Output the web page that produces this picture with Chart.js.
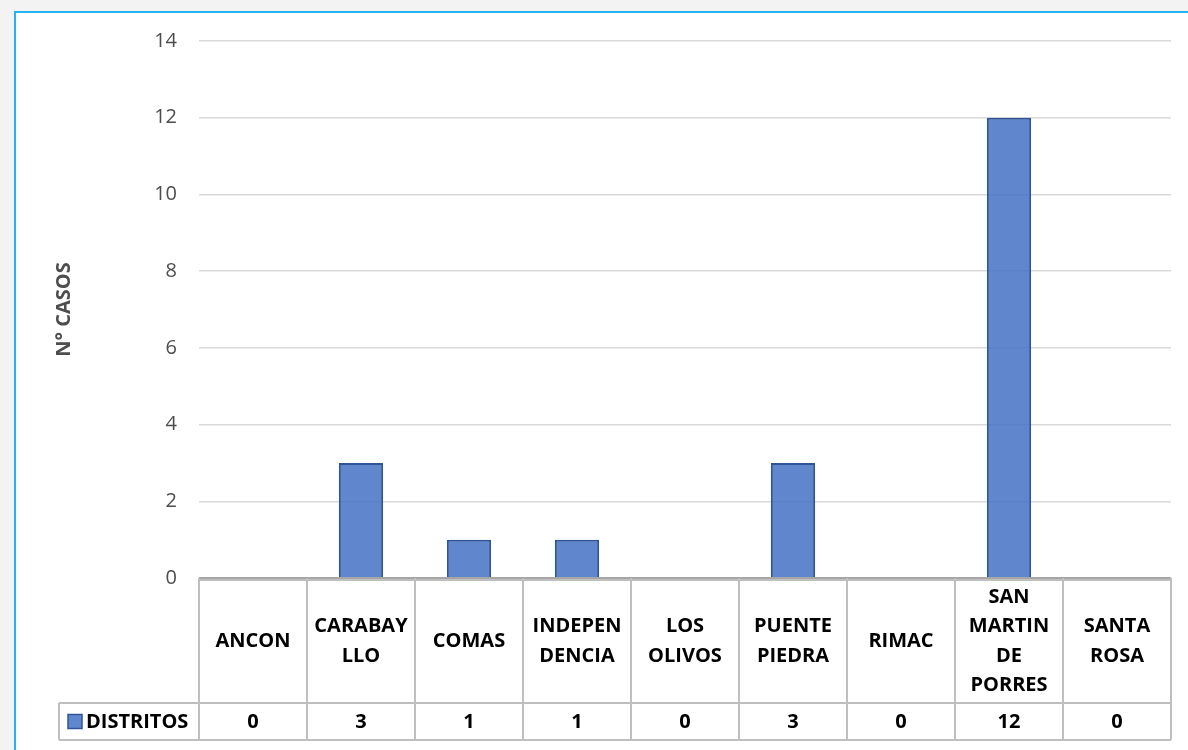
<!DOCTYPE html>
<html>
<head>
<meta charset="utf-8">
<script src="https://cdn.jsdelivr.net/npm/chart.js@4"></script>
<style>
    html, body { margin: 0; padding: 0; background: #f3f3f3; }
    #frame {
        position: absolute; left: 14px; top: 11px;
        width: 1200px; height: 800px;
        background: #ffffff;
        border-left: 2px solid #22b4ee;
        border-top: 2px solid #22b4ee;
    }
    #wrap { position: absolute; left: 0; top: 0; width: 1188px; height: 750px; }
</style>
</head>
<body>
<div id="frame"></div>
<div id="wrap"><canvas id="casosChart" width="1188" height="750"></canvas></div>
<script>
// Casos por distrito
const distritos = [['ANCON'], ['CARABAY', 'LLO'], ['COMAS'], ['INDEPEN', 'DENCIA'], ['LOS', 'OLIVOS'],
    ['PUENTE', 'PIEDRA'], ['RIMAC'], ['SAN', 'MARTIN', 'DE', 'PORRES'], ['SANTA', 'ROSA']];
const casos = [0, 3, 1, 1, 0, 3, 0, 12, 0];
const serieNombre = 'DISTRITOS';
const yMax = 14;
const yStep = 2;

const FONT = "'Open Sans', 'Noto Sans', sans-serif";
const BAR_FILL = 'rgba(68, 114, 196, 0.85)';
const BAR_EDGE = '#2f5597';

// Tabla de datos debajo del eje X (estilo Excel)
const dataTable = {
    id: 'dataTable',
    afterDraw(chart) {
        const ctx = chart.ctx;
        const x = chart.scales.x;
        const area = chart.chartArea;
        const n = distritos.length;
        const step = (area.right - area.left) / n;
        const headTop = area.bottom + 2;
        const rowTop = 703;
        const rowBottom = 740;
        const legendLeft = 59;

        ctx.save();
        // linea del eje
        ctx.strokeStyle = '#a6a6a6';
        ctx.lineWidth = 2;
        ctx.beginPath();
        ctx.moveTo(area.left, area.bottom);
        ctx.lineTo(area.right, area.bottom);
        ctx.stroke();

        // rejilla
        ctx.strokeStyle = '#bfbfbf';
        ctx.lineWidth = 2;
        ctx.beginPath();
        for (let i = 0; i <= n; i++) {
            const px = area.left + i * step;
            ctx.moveTo(px, area.bottom);
            ctx.lineTo(px, rowBottom);
        }
        ctx.moveTo(area.left, headTop);
        ctx.lineTo(area.right, headTop);
        ctx.moveTo(legendLeft, rowTop);
        ctx.lineTo(area.right, rowTop);
        ctx.moveTo(legendLeft, rowBottom);
        ctx.lineTo(area.right, rowBottom);
        ctx.moveTo(legendLeft, rowTop);
        ctx.lineTo(legendLeft, rowBottom);
        ctx.stroke();

        // nombres de distritos y valores
        ctx.fillStyle = '#000000';
        ctx.font = 'bold 20px ' + FONT;
        ctx.textAlign = 'center';
        ctx.textBaseline = 'middle';
        const lineH = 29.5;
        const headMid = (headTop + rowTop) / 2;
        distritos.forEach((lines, i) => {
            const cx = x.getPixelForValue(i);
            const y0 = headMid - (lines.length - 1) * lineH / 2;
            lines.forEach((t, j) => ctx.fillText(t, cx, y0 + j * lineH));
            ctx.fillText(String(casos[i]), cx, (rowTop + rowBottom) / 2 + 1);
        });

        // leyenda
        const ly = (rowTop + rowBottom) / 2;
        ctx.fillStyle = BAR_FILL;
        ctx.fillRect(68, ly - 7, 14, 14);
        ctx.strokeStyle = BAR_EDGE;
        ctx.lineWidth = 1.5;
        ctx.strokeRect(68, ly - 7, 14, 14);
        ctx.fillStyle = '#000000';
        ctx.textAlign = 'left';
        ctx.fillText(serieNombre, 86, ly + 1);
        ctx.restore();
    }
};

document.addEventListener('DOMContentLoaded', function() {
    const canvas = document.getElementById('casosChart');
    new Chart(canvas.getContext('2d'), {
        type: 'bar',
        data: {
            labels: distritos,
            datasets: [{
                label: serieNombre,
                data: casos,
                backgroundColor: BAR_FILL,
                borderColor: BAR_EDGE,
                borderWidth: 2,
                categoryPercentage: 1,
                barPercentage: 0.41
            }]
        },
        options: {
            responsive: false,
            animation: false,
            layout: { padding: { top: 41, right: 17, bottom: 172, left: 0 } },
            plugins: {
                legend: { display: false },
                tooltip: { enabled: false }
            },
            scales: {
                x: { display: false },
                y: {
                    min: 0,
                    max: yMax,
                    afterFit(scale) { scale.width = 199; },
                    border: { display: false },
                    grid: { color: '#d9d9d9', lineWidth: 1.5, drawTicks: false },
                    ticks: {
                        stepSize: yStep,
                        padding: 22,
                        color: '#4d4d4d',
                        font: { family: FONT, size: 20 }
                    },
                    title: {
                        display: true,
                        text: 'N° CASOS',
                        color: '#4d4d4d',
                        padding: { top: 52, bottom: 0 },
                        font: { family: FONT, size: 20, weight: 'bold' }
                    }
                }
            }
        },
        plugins: [dataTable]
    });
});
</script>
</body>
</html>
